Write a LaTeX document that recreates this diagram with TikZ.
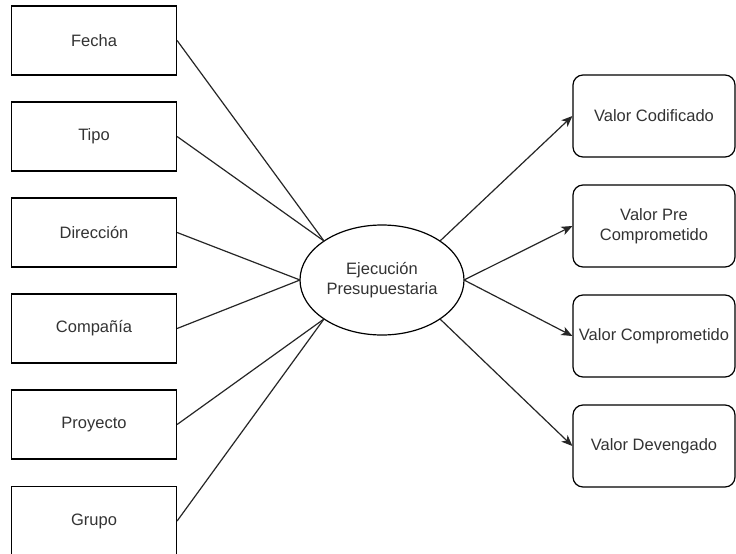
\documentclass[tikz,border=0pt]{standalone}
\usepackage{fontspec}
\setmainfont{Liberation Sans}
\usetikzlibrary{arrows.meta,shapes.geometric}
\begin{document}
\begin{tikzpicture}[x=1pt,y=-1pt,
  every node/.style={font=\fontsize{16.5}{19.5}\selectfont, text=black!80},
  srcbox/.style={draw, line width=1.2pt, minimum width=165pt, minimum height=69pt, inner sep=0pt},
  valbox/.style={draw, line width=1.2pt, rounded corners=10pt, minimum width=162pt, minimum height=82pt, inner sep=0pt, align=center},
  hub/.style={draw, line width=1.2pt, ellipse, minimum width=164pt, minimum height=110pt, inner sep=0pt, align=center},
  link/.style={line width=1.2pt, black!85},
  flow/.style={link, -{Stealth[length=11pt,width=9pt,inset=3pt]}}
]
\useasboundingbox (0,0) rectangle (736,554);
\fill[white] (0,0) rectangle (736,554);
\begin{scope}
\clip (0,0) rectangle (736,554);

% source attributes
\node[srcbox] (fecha)    at (94,40.5)  {Fecha};
\node[srcbox] (tipo)     at (94,136.5) {Tipo};
\node[srcbox] (dir)      at (94,232.5) {Dirección};
\node[srcbox] (comp)     at (94,328.5) {Compañía};
\node[srcbox] (proy)     at (94,424.5) {Proyecto};
\node[srcbox] (grupo)    at (94,521)   {Grupo};

% central entity
\node[hub] (ej) at (382,280) {Ejecución\\Presupuestaria};

% connection points on the ellipse
\coordinate (tl) at (324,241);
\coordinate (ml) at (300,280);
\coordinate (bl) at (324,319);
\coordinate (tr) at (440,241);
\coordinate (mr) at (464,280);
\coordinate (br) at (440,319);

% values
\node[valbox] (cod)   at (654,116) {Valor Codificado};
\node[valbox] (pre)   at (654,226) {Valor Pre\\Comprometido};
\node[valbox] (cmp)   at (654,336) {Valor Comprometido};
\node[valbox] (dev)   at (654,446) {Valor Devengado};

% incoming links
\draw[link] (fecha.east) -- (tl);
\draw[link] (tipo.east)  -- (tl);
\draw[link] (dir.east)   -- (ml);
\draw[link] (comp.east)  -- (ml);
\draw[link] (proy.east)  -- (bl);
\draw[link] (grupo.east) -- (bl);

% outgoing arrows
\draw[flow] (tr) -- (cod.west);
\draw[flow] (mr) -- (pre.west);
\draw[flow] (mr) -- (cmp.west);
\draw[flow] (br) -- (dev.west);
\end{scope}
\end{tikzpicture}
\end{document}
